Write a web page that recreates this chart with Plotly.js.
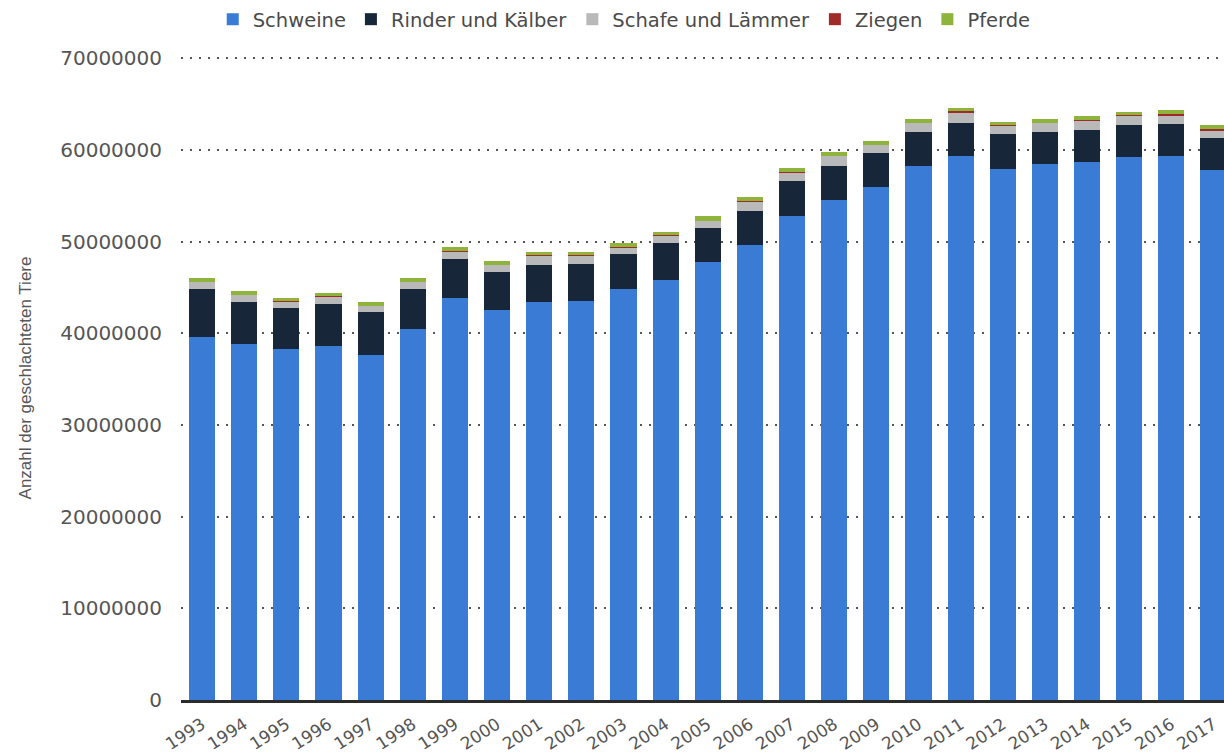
<!DOCTYPE html>
<html>
<head>
<meta charset="utf-8">
<script src="https://cdn.plot.ly/plotly-3.0.1.min.js"></script>
<style>
  html, body { margin: 0; padding: 0; background: #fff; overflow: hidden; }
  #chart { width: 1224px; height: 753px; }
</style>
</head>
<body>
<div id="chart"></div>
<script>
const years = ['1993','1994','1995','1996','1997','1998','1999','2000','2001','2002','2003','2004','2005','2006','2007','2008','2009','2010','2011','2012','2013','2014','2015','2016','2017'];

const schweine = [39600000, 38800000, 38300000, 38600000, 37600000, 40450000, 43800000, 42500000, 43400000, 43550000, 44800000, 45800000, 47750000, 49600000, 52850000, 54500000, 55950000, 58300000, 59350000, 57950000, 58450000, 58700000, 59200000, 59300000, 57800000];
const rinder = [5200000, 4600000, 4500000, 4650000, 4750000, 4350000, 4350000, 4200000, 4100000, 4050000, 3800000, 4000000, 3750000, 3750000, 3750000, 3800000, 3750000, 3650000, 3600000, 3750000, 3500000, 3500000, 3550000, 3550000, 3500000];
const schafe = [800000, 800000, 700000, 800000, 650000, 800000, 800000, 800000, 1000000, 900000, 800000, 900000, 800000, 1050000, 950000, 1050000, 850000, 1000000, 1100000, 1000000, 1000000, 1050000, 1050000, 950000, 850000];
const ziegen = [3000, 3000, 3000, 3000, 3000, 3000, 3000, 3000, 3000, 3000, 3000, 3000, 3000, 3000, 3000, 3000, 3000, 3000, 150000, 3000, 3000, 3000, 3000, 150000, 150000];
const pferde = [450000, 400000, 400000, 350000, 400000, 400000, 450000, 400000, 400000, 400000, 450000, 350000, 500000, 500000, 500000, 450000, 450000, 450000, 400000, 350000, 400000, 500000, 350000, 400000, 400000];

const seriesNames = ['Schweine', 'Rinder und Kälber', 'Schafe und Lämmer', 'Ziegen', 'Pferde'];
const seriesValues = [schweine, rinder, schafe, ziegen, pferde];
const seriesColors = ['#3a7bd5', '#172639', '#b9b9b9', '#a0292a', '#8fb43c'];

const traces = seriesNames.map((name, i) => ({
  type: 'bar',
  name: name,
  x: years,
  y: seriesValues[i],
  marker: { color: seriesColors[i] },
  hoverinfo: 'x+y+name'
}));

const layout = {
  width: 1224,
  height: 753,
  barmode: 'stack',
  bargap: 0.38,
  paper_bgcolor: '#ffffff',
  plot_bgcolor: '#ffffff',
  margin: { l: 181, r: 0, t: 56, b: 53 },
  font: { family: 'DejaVu Sans, sans-serif', color: '#555555' },
  showlegend: true,
  legend: {
    orientation: 'h',
    xref: 'container',
    yref: 'container',
    x: 0.51,
    xanchor: 'center',
    y: 1.0,
    yanchor: 'top',
    font: { family: 'DejaVu Sans, sans-serif', size: 19.5, color: '#4a4a4a' },
    traceorder: 'normal'
  },
  xaxis: {
    type: 'category',
    range: [-0.5, 24.25],
    tickangle: -33,
    tickfont: { family: 'DejaVu Sans, sans-serif', size: 17, color: '#555555' },
    showgrid: false,
    showline: true,
    linecolor: '#2b2b2b',
    linewidth: 3,
    ticks: '',
    ticklabelstandoff: 5,
    fixedrange: true
  },
  yaxis: {
    range: [0, 70250000],
    tickvals: [0, 10000000, 20000000, 30000000, 40000000, 50000000, 60000000, 70000000],
    ticktext: ['0', '10000000', '20000000', '30000000', '40000000', '50000000', '60000000', '70000000'],
    tickfont: { family: 'DejaVu Sans, sans-serif', size: 20, color: '#555555' },
    showgrid: true,
    gridcolor: '#555555',
    gridwidth: 2,
    griddash: '2px,7px',
    zeroline: false,
    showline: false,
    ticks: '',
    ticklabelstandoff: 18,
    title: {
      text: 'Anzahl der geschlachteten Tiere',
      font: { family: 'Liberation Sans, Arial, sans-serif', size: 17, color: '#555555' },
      standoff: 24
    },
    automargin: false,
    fixedrange: true
  }
};

Plotly.newPlot('chart', traces, layout, { displayModeBar: false });
</script>
</body>
</html>
